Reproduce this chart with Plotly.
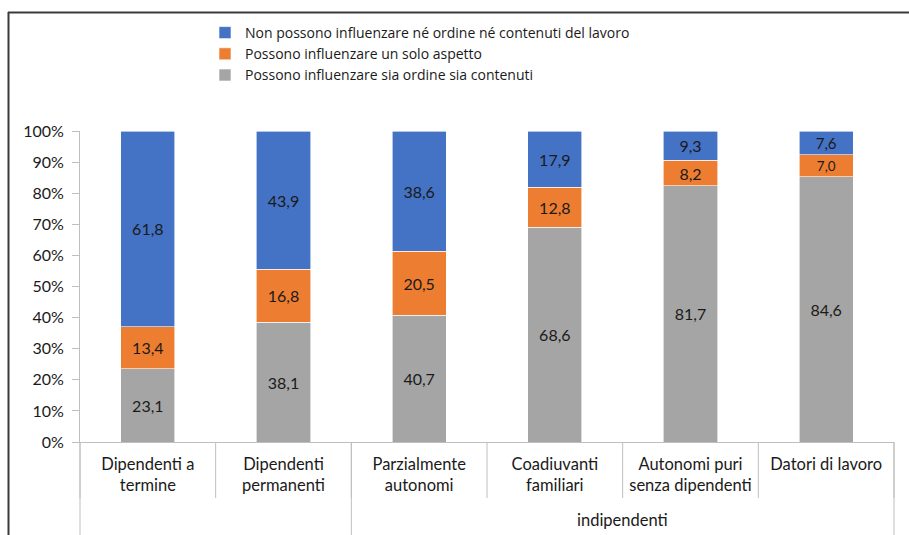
import plotly.graph_objects as go

# Data (percent values per worker category)
categories = [
    "Dipendenti a<br>termine",
    "Dipendenti<br>permanenti",
    "Parzialmente<br>autonomi",
    "Coadiuvanti<br>familiari",
    "Autonomi puri<br>senza dipendenti",
    "Datori di lavoro",
]
group_label = "indipendenti"
group_start = 2  # first category index belonging to the group

series_names = [
    "Possono influenzare sia ordine sia contenuti",
    "Possono influenzare un solo aspetto",
    "Non possono influenzare né ordine né contenuti del lavoro",
]
both_aspects = [23.1, 38.1, 40.7, 68.6, 81.7, 84.6]
one_aspect = [13.4, 16.8, 20.5, 12.8, 8.2, 7.0]
no_influence = [61.8, 43.9, 38.6, 17.9, 9.3, 7.6]
series_values = [both_aspects, one_aspect, no_influence]
series_colors = ["#A5A5A5", "#ED7D31", "#4472C4"]

W, H = 909, 535
ML, MR, MT, MB = 80, 15, 131, 93
plot_w = W - ML - MR
plot_h = H - MT - MB

def px_to_paper_x(px):
    return (px - ML) / plot_w

def px_to_paper_y(py):
    return (H - MB - py) / plot_h

FONT = "Lato"
AXIS_GREY = "#BFBFBF"

fig = go.Figure()
for name, vals, col in zip(series_names, series_values, series_colors):
    fig.add_trace(go.Bar(
        name=name,
        x=categories,
        y=vals,
        marker=dict(color=col, line=dict(color="white", width=0.6)),
        text=[f"{v:.1f}".replace(".", ",") for v in vals],
        textposition="inside",
        insidetextanchor="middle",
        textangle=0,
        textfont=dict(family=FONT, size=16, color="#1a1a1a"),
        hoverinfo="skip",
    ))

shapes = []
n = len(categories)
# short dividers between category labels
for i in range(n + 1):
    shapes.append(dict(type="line", xref="paper", yref="paper",
                       x0=i / n, x1=i / n, y0=0, y1=px_to_paper_y(498),
                       line=dict(color=AXIS_GREY, width=1)))
# long dividers delimiting the groups
for b in (0, group_start, n):
    shapes.append(dict(type="line", xref="paper", yref="paper",
                       x0=b / n, x1=b / n, y0=0, y1=px_to_paper_y(540),
                       line=dict(color=AXIS_GREY, width=1)))
# outer frame (top and left edges)
shapes.append(dict(type="line", xref="paper", yref="paper",
                   x0=px_to_paper_x(8), x1=px_to_paper_x(915),
                   y0=px_to_paper_y(12.5), y1=px_to_paper_y(12.5),
                   line=dict(color="#3a3a3a", width=2)))
shapes.append(dict(type="line", xref="paper", yref="paper",
                   x0=px_to_paper_x(8.5), x1=px_to_paper_x(8.5),
                   y0=px_to_paper_y(12), y1=px_to_paper_y(540),
                   line=dict(color="#3a3a3a", width=2)))

fig.update_layout(
    width=W, height=H,
    margin=dict(l=ML, r=MR, t=MT, b=MB, pad=0),
    barmode="stack",
    barnorm="percent",
    bargap=0.6,
    plot_bgcolor="white",
    paper_bgcolor="white",
    font=dict(family=FONT, size=14, color="#1a1a1a"),
    showlegend=True,
    legend=dict(
        x=px_to_paper_x(205), y=px_to_paper_y(17),
        xanchor="left", yanchor="top",
        traceorder="reversed",
        font=dict(family="Open Sans", size=14, color="#1a1a1a"),
        itemwidth=30,
        bgcolor="rgba(0,0,0,0)",
        tracegroupgap=0,
    ),
    xaxis=dict(
        type="category",
        showline=True, linecolor=AXIS_GREY, linewidth=1,
        ticks="", showgrid=False,
        tickfont=dict(family=FONT, size=16.5, color="#1a1a1a"),
        ticklabelstandoff=7,
    ),
    yaxis=dict(
        range=[0, 100], dtick=10, ticksuffix="%",
        showline=True, linecolor=AXIS_GREY, linewidth=1,
        ticks="outside", ticklen=7, tickcolor=AXIS_GREY,
        showgrid=False, zeroline=False,
        tickfont=dict(family=FONT, size=16, color="#1a1a1a"),
        ticklabelstandoff=5,
    ),
    shapes=shapes,
    annotations=[dict(
        text=group_label, xref="paper", yref="paper",
        x=(group_start + n) / 2 / n, y=px_to_paper_y(520),
        showarrow=False, xanchor="center", yanchor="middle",
        font=dict(family=FONT, size=16.5, color="#1a1a1a"),
    )],
)

fig.write_html("out.html")
